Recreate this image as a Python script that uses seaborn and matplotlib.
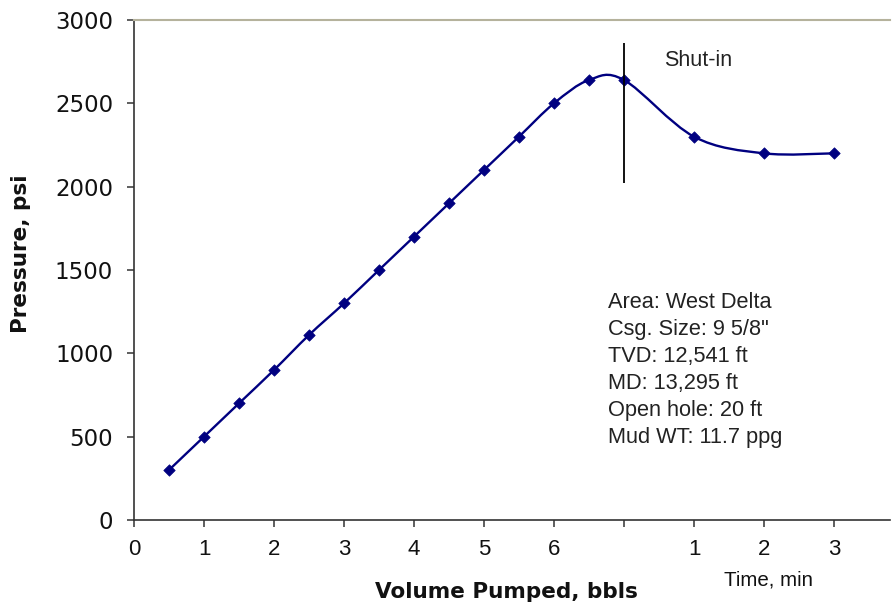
import numpy as np
import pandas as pd
import matplotlib
matplotlib.use("Agg")
import matplotlib.pyplot as plt
import seaborn as sns
from matplotlib.path import Path
from matplotlib.patches import PathPatch

# ---------------- data ----------------
x_position = [0.5, 1.0, 1.5, 2.0, 2.5, 3.0, 3.5, 4.0, 4.5, 5.0, 5.5, 6.0, 6.5, 7.0, 8.0, 9.0, 10.0]
pressure = [300, 500, 700, 900, 1110, 1300, 1500, 1700, 1900, 2100, 2300, 2500, 2640, 2640, 2300, 2200, 2200]
x_tick_values = [0, 1, 2, 3, 4, 5, 6, 7, 8, 9, 10]
x_tick_labels = ["0", "1", "2", "3", "4", "5", "6", "", "1", "2", "3"]
y_tick_values = [0, 500, 1000, 1500, 2000, 2500, 3000]
shut_in_x = 7.0
shut_in_range = [2020, 2860]
info_lines = ["Area: West Delta", 'Csg. Size: 9 5/8"', "TVD: 12,541 ft",
              "MD: 13,295 ft", "Open hole: 20 ft", "Mud WT: 11.7 ppg"]

df = pd.DataFrame({"x": x_position, "pressure": pressure})

# ---------------- style ----------------
sns.set_theme(style="white")
plt.rcParams["font.family"] = ["Liberation Sans", "DejaVu Sans"]

W, H = 892, 610
fig = plt.figure(figsize=(W / 100, H / 100), dpi=100)
ax = fig.add_axes([134 / W, 90 / H, (890 - 134) / W, 500 / H])
ax.set_xlim(0, 10.8)
ax.set_ylim(0, 3000)

navy = "#000080"

# smoothed line (Catmull-Rom Bezier through data points, like Excel smoothing)
pts = df[["x", "pressure"]].to_numpy(dtype=float)
verts = [tuple(pts[0])]
codes = [Path.MOVETO]
n = len(pts)
for i in range(n - 1):
    p0 = pts[i - 1] if i > 0 else pts[i]
    p1 = pts[i]
    p2 = pts[i + 1]
    p3 = pts[i + 2] if i + 2 < n else pts[i + 1]
    c1 = p1 + (p2 - p0) / 6.0
    c2 = p2 - (p3 - p1) / 6.0
    verts += [tuple(c1), tuple(c2), tuple(p2)]
    codes += [Path.CURVE4] * 3
ax.add_patch(PathPatch(Path(verts, codes), facecolor="none", edgecolor=navy, lw=1.7, zorder=2))

sns.scatterplot(data=df, x="x", y="pressure", marker="D", s=34, color=navy,
                edgecolor=navy, linewidth=0.5, ax=ax, zorder=3, legend=False)

# shut-in line
ax.vlines(shut_in_x, shut_in_range[0], shut_in_range[1], color="black", lw=1.3, zorder=4)

# ---------------- axes ----------------
ax.set_xticks(x_tick_values)
ax.set_xticklabels(x_tick_labels, fontsize=16, color="#111111")
ax.set_yticks(y_tick_values)
ax.set_yticklabels([str(v) for v in y_tick_values], fontsize=16.5, color="#111111",
                   family="DejaVu Sans")
ax.tick_params(axis="x", direction="out", length=5, width=1.1, color="#333333", pad=8.5, bottom=True)
ax.tick_params(axis="y", direction="out", length=5, width=1.1, color="#333333", pad=10, left=True)
ax.set_xlabel("")
ax.set_ylabel("")

for side in ["left", "bottom"]:
    ax.spines[side].set_color("#333333")
    ax.spines[side].set_linewidth(1.2)
ax.spines["right"].set_visible(False)
ax.spines["top"].set_color("#B5B29C")
ax.spines["top"].set_linewidth(1.5)
ax.grid(False)

def px_to_data_y(py):
    return (520 - py) / 500 * 3000

def px_to_data_x(px):
    return (px - 134) / 70

# annotations
ax.text(px_to_data_x(664), px_to_data_y(65.7), "Shut-in", fontsize=15.5, color="#222222",
        ha="left", va="baseline")
for i, line in enumerate(info_lines):
    ax.text(px_to_data_x(608), px_to_data_y(308.3 + 27 * i), line, fontsize=15.7,
            color="#222222", ha="left", va="baseline")

fig.text(506 / W, 1 - 598.3 / H, "Volume Pumped, bbls", fontsize=15.5, fontweight="bold",
         family="DejaVu Sans", ha="center", va="baseline", color="#111111")
fig.text(769 / W, 1 - 585.7 / H, "Time, min", fontsize=14.8, ha="center", va="baseline",
         color="#111111")
fig.text(21 / W, 1 - 254 / H, "Pressure, psi", fontsize=15.5, fontweight="bold",
         family="DejaVu Sans", rotation=90, ha="center", va="center", color="#111111")

fig.savefig("out.png", dpi=100)
